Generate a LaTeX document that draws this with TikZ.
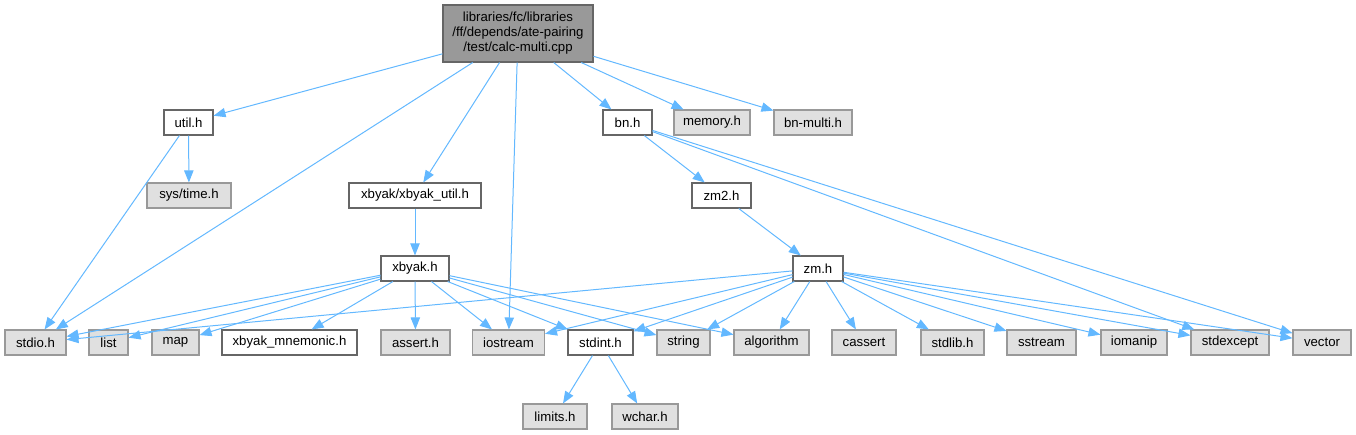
\documentclass[tikz,border=0pt]{standalone}
\usepackage{fontspec}
\setmainfont{Liberation Sans}
\usetikzlibrary{arrows.meta}
\definecolor{edgeblue}{HTML}{63B8FF}
\definecolor{boxgray}{HTML}{E0E0E0}
\definecolor{rimgray}{HTML}{999999}
\definecolor{rimdark}{HTML}{666666}

\begin{document}
\begin{tikzpicture}[x=0.75pt, y=-0.75pt,
  font=\fontsize{9.9}{11.25}\selectfont,
  wd/.style={minimum width=#1*0.75pt},
  file/.style={draw=rimdark, fill=white, line width=0.8pt,
    minimum height=25*0.75pt, inner sep=0pt},
  sysfile/.style={file, draw=rimgray, fill=boxgray},
  edge/.style={draw=edgeblue, line width=0.75pt,
    -{Triangle[length=9pt, width=7pt]}}]
\useasboundingbox (0,0) rectangle (1356,435);

% Root file
\node[file, fill=rimgray, wd=150, minimum height=57*0.75pt, align=center]
  (root) at (518,33.5) {libraries/fc/libraries\\/ff/depends/ate-pairing\\/test/calc-multi.cpp};

% Second and third rank
\node[file, wd=49]     (util)      at (188.5,122.5) {util.h};
\node[file, wd=49]     (bn)        at (627.5,122.5) {bn.h};
\node[sysfile, wd=76]  (memory)    at (712,122.5)   {memory.h};
\node[sysfile, wd=78]  (bnmulti)   at (813,122.5)   {bn-multi.h};
\node[sysfile, wd=84]  (systime)   at (189,195.5)   {sys/time.h};
\node[file, wd=132]    (xbyakutil) at (415,195.5)   {xbyak/xbyak\_util.h};
\node[file, wd=59]     (zmtwo)     at (721.5,195.5) {zm2.h};
\node[file, wd=68]     (xbyak)     at (415,268.5)   {xbyak.h};
\node[file, wd=50]     (zm)        at (818,268.5)   {zm.h};

% Bottom rank of headers
\foreach \name/\x/\w/\txt in {stdio/35.5/61/stdio.h, list/108.5/39/list,
    map/175.5/47/map, assert/415.5/69/assert.h, iostream/508.5/72/iostream,
    string/683.5/53/string, algorithm/771.5/75/algorithm,
    cassert/864/64/cassert, stdlib/952.5/63/stdlib.h, sstream/1041.5/69/sstream,
    iomanip/1134/66/iomanip, stdexcept/1230/78/stdexcept, vector/1322/58/vector}
  \node[sysfile, wd=\w] (\name) at (\x,342.5) {\txt};
\node[file, wd=135]   (mnemonic) at (289.5,342.5) {xbyak\_mnemonic.h};
\node[file, wd=65]    (stdint)   at (600.5,342.5) {stdint.h};
\node[sysfile, wd=64] (limits)   at (555,416.5)   {limits.h};
\node[sysfile, wd=66] (wchar)    at (645,416.5)   {wchar.h};

% Includes of the root file
\foreach \dst in {util, stdio, xbyakutil, iostream, bn, memory, bnmulti}
  \draw[edge] (root) -- (\dst);

% util.h and xbyak_util.h
\draw[edge] (util) -- (systime);
\draw[edge] (util) -- (stdio);
\draw[edge] (xbyakutil) -- (xbyak);

% xbyak.h
\foreach \dst in {stdio, list, map, mnemonic, assert, iostream, stdint, string, algorithm}
  \draw[edge] (xbyak) -- (\dst);

% bn.h, zm2.h and zm.h
\draw[edge] (bn) -- (zmtwo);
\draw[edge] (bn) -- (stdexcept);
\draw[edge] (bn) -- (vector);
\draw[edge] (zmtwo) -- (zm);
\foreach \dst in {stdio, iostream, stdint, string, algorithm, cassert,
    stdlib, sstream, iomanip, stdexcept, vector}
  \draw[edge] (zm) -- (\dst);

% stdint.h
\draw[edge] (stdint) -- (limits);
\draw[edge] (stdint) -- (wchar);

\end{tikzpicture}
\end{document}
